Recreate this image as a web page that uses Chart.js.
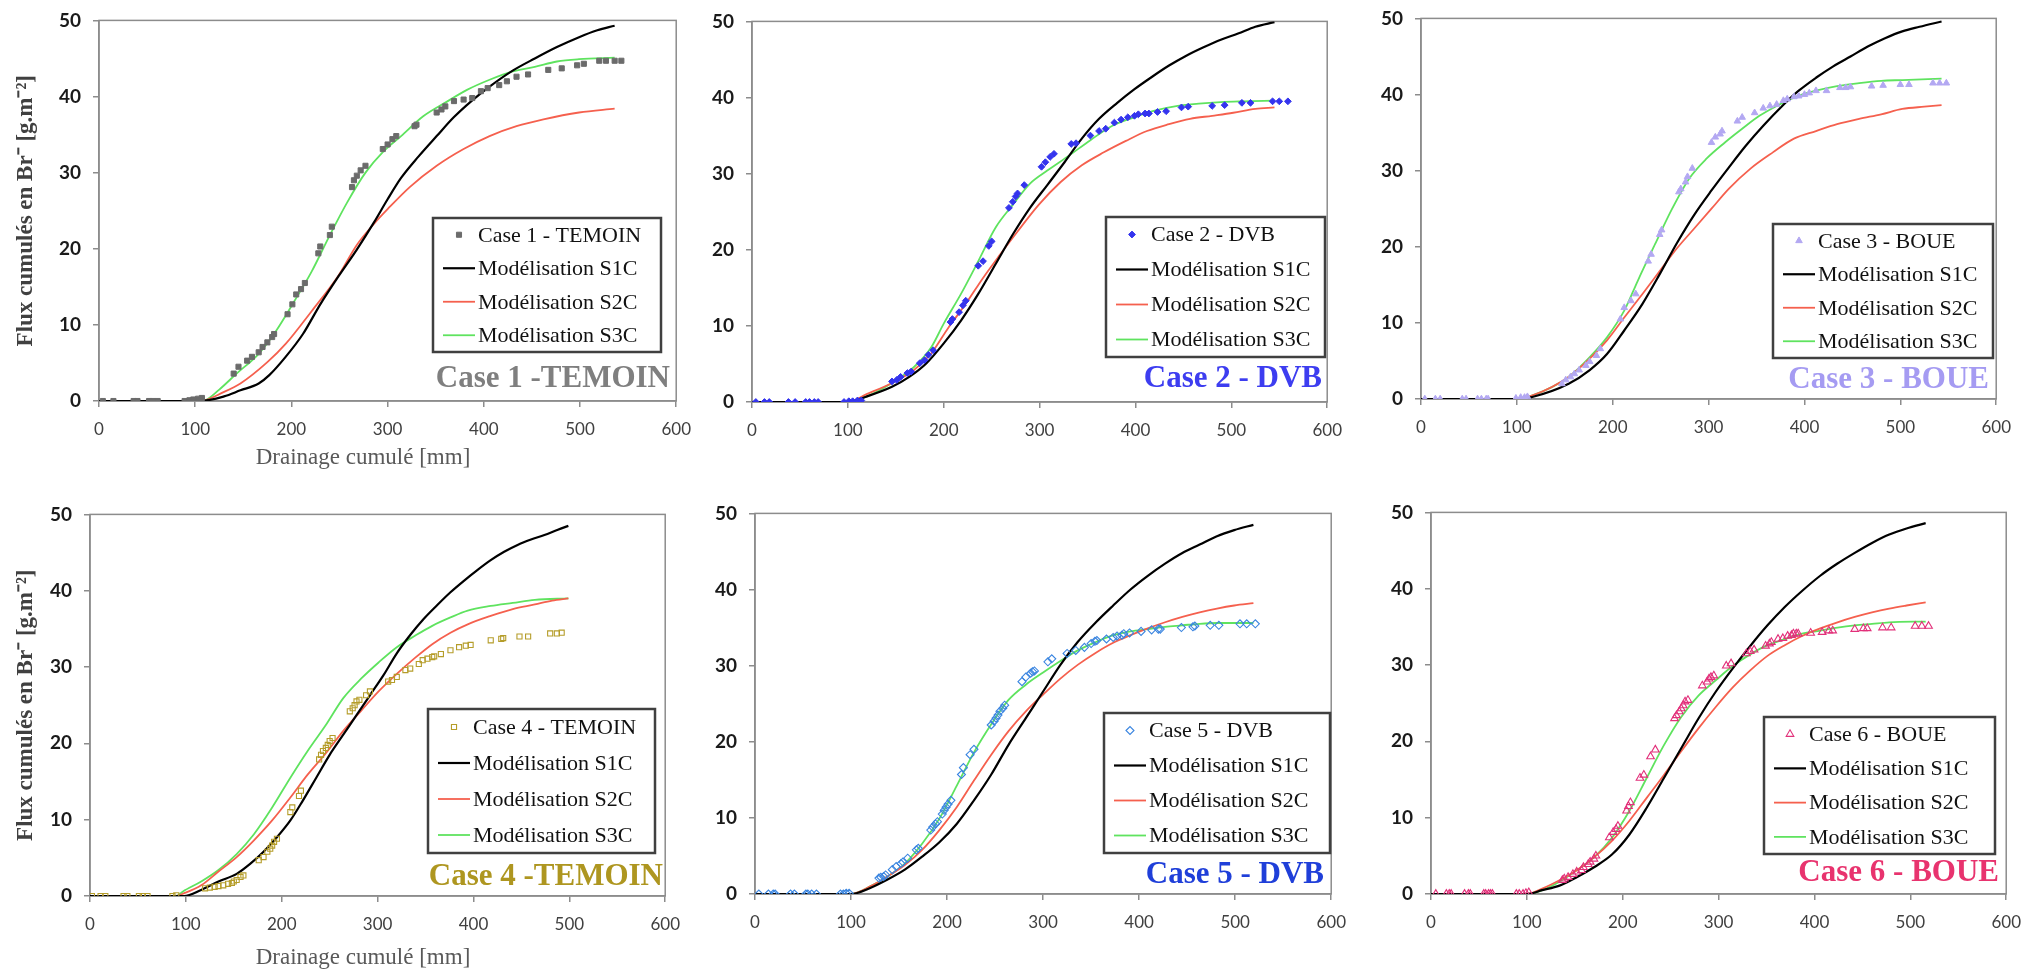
<!DOCTYPE html>
<html><head><meta charset="utf-8">
<script src="https://cdn.jsdelivr.net/npm/chart.js@4.4.0/dist/chart.umd.min.js"></script>
<style>
html,body{margin:0;padding:0;background:#fff;width:2042px;height:972px;overflow:hidden;position:relative}
canvas{position:absolute}
</style></head><body>
<script>
// ---------- tick labels ----------
const xTicks = [0, 100, 200, 300, 400, 500, 600];
const yTicks = [0, 10, 20, 30, 40, 50];
const xTitle = 'Drainage cumulé [mm]';
const yTitle = 'Flux cumulés en Br\u207B [g.m\u207B\u00B2]';
const modelLabels = ['Modélisation S1C', 'Modélisation S2C', 'Modélisation S3C'];
const caseLabels = ['Case 1 - TEMOIN', 'Case 2 - DVB', 'Case 3 - BOUE', 'Case 4 - TEMOIN', 'Case 5 - DVB', 'Case 6 - BOUE'];
const caseTitles = ['Case 1 -TEMOIN', 'Case 2 - DVB', 'Case 3 - BOUE', 'Case 4 -TEMOIN', 'Case 5 - DVB', 'Case 6 - BOUE'];

// ---------- measured points [drainage mm, flux g/m2] ----------
const case1 = [[4,0],[15,0],[36,0],[40,0],[52,0],[56,0],[61,0],[89,0],[94,0.1],[98,0.2],[103,0.3],[107,0.4],
 [140,3.6],[145,4.5],[154,5.3],[159,5.8],[166,6.4],[170,7.1],[175,7.7],[180,8.4],[182,8.8],[196,11.4],[201,12.7],[205,14],[210,14.7],[214,15.5],
 [228,19.4],[230,20.3],[240,21.8],[242,22.9],[263,28.1],[265,29],[268,29.6],[272,30.3],[277,30.9],[295,33.1],[300,33.7],[305,34.4],[309,34.8],
 [328,36.1],[330,36.3],[351,37.9],[356,38.3],[360,38.7],[369,39.4],[379,39.6],[388,39.8],[397,40.7],[404,41.1],[416,41.5],[424,42],[434,42.6],
 [446,42.9],[467,43.5],[481,43.7],[497,44.1],[504,44.3],[520,44.7],[527,44.7],[536,44.7],[543,44.7]];
const case2 = [[4,0],[13,0],[18,0],[38,0],[45,0],[56,0],[60,0],[65,0],[69,0],[96,0],[101,0.1],[105,0.1],[110,0.2],[114,0.2],
 [146,2.7],[151,2.9],[155,3.3],[162,3.8],[166,4],[175,5.1],[180,5.5],[184,6.2],[189,6.8],[207,10.5],[209,10.9],[216,11.8],[220,12.7],[223,13.3],
 [236,17.9],[241,18.5],[247,20.5],[250,21.1],[268,25.5],[272,26.3],[275,27],[277,27.4],[284,28.5],[302,30.9],[306,31.5],[311,32.2],[315,32.6],
 [333,33.9],[338,34],[353,35],[362,35.6],[369,35.9],[378,36.7],[385,37.1],[392,37.4],[399,37.6],[403,37.8],[410,37.9],[414,37.9],[423,38.1],
 [432,38.2],[448,38.7],[455,38.8],[480,38.9],[493,39],[511,39.3],[520,39.3],[543,39.5],[550,39.5],[559,39.5]];
const case3 = [[4,0],[15,0],[20,0],[43,0],[47,0],[59,0],[63,0],[68,0],[70,0],[99,0.1],[104,0.2],[108,0.2],[111,0.3],
 [147,2],[151,2.5],[156,2.9],[160,3.3],[165,3.8],[172,4.4],[176,4.9],[183,5.7],[187,6.6],[208,10.5],[212,12],[219,12.9],[224,13.8],
 [237,18.1],[240,19],[249,21.6],[251,22.2],[269,27.2],[271,27.6],[276,28.5],[278,29.2],[283,30.3],[303,33.7],[307,34.4],[312,34.8],[314,35.2],
 [330,36.5],[335,37],[348,37.6],[357,38.2],[364,38.5],[371,38.7],[378,39.2],[382,39.4],[389,39.7],[394,39.8],[400,40],[405,40.2],[412,40.5],
 [423,40.5],[437,40.9],[443,40.9],[448,41],[470,41.1],[482,41.2],[500,41.3],[509,41.3],[534,41.5],[541,41.5],[548,41.5]];
const case4 = [[2,0],[11,0],[16,0],[35,0],[39,0],[51,0],[55,0],[60,0],[86,0],[90,0.1],
 [120,1],[125,1.1],[130,1.2],[134,1.3],[139,1.4],[144,1.6],[148,1.7],[150,1.9],[153,2.1],[157,2.5],[160,2.7],[176,4.7],[181,5.1],[185,5.8],
 [188,6.2],[190,6.6],[192,7.1],[195,7.5],[209,11],[211,11.6],[218,13.1],[220,13.8],[239,17.9],[241,18.5],[243,19],[246,19.4],[248,19.8],[250,20.3],
 [253,20.7],[271,24.2],[274,24.6],[276,25],[278,25.5],[281,25.7],[288,26.3],[292,26.8],[311,28.1],[315,28.3],[320,28.7],[329,29.6],[334,29.8],
 [343,30.4],[347,30.9],[352,31.1],[357,31.3],[359,31.4],[366,31.7],[376,32.2],[385,32.6],[392,32.8],[397,32.9],[418,33.5],[429,33.7],[431,33.8],
 [448,34],[457,34],[480,34.4],[487,34.4],[492,34.5]];
const case5 = [[4,0],[14,0],[19,0],[21,0],[37,0],[41,0],[53,0],[55,0],[59,0],[64,0],[89,0],[92,0],[95,0.1],[98,0.1],
 [129,2.1],[131,2.2],[134,2.3],[136,2.5],[143,3.2],[147,3.6],[152,4],[154,4.2],[159,4.7],[168,5.8],[170,6],[183,8.4],[185,8.8],[188,9.2],
 [190,9.5],[195,10.5],[197,11],[199,11.4],[201,11.8],[204,12.3],[215,15.7],[217,16.6],[224,18.3],[228,19],[246,22.2],[249,22.7],[251,23.1],
 [253,23.5],[255,24],[258,24.4],[260,24.8],[278,27.9],[282,28.5],[287,29],[289,29.2],[291,29.3],[305,30.5],[309,30.9],[325,31.6],[334,32],
 [343,32.4],[350,32.9],[354,33.2],[356,33.3],[366,33.5],[373,33.7],[377,33.9],[382,34],[384,34.2],[390,34.3],[402,34.5],[413,34.7],[420,34.8],
 [422,34.8],[444,35],[456,35.1],[458,35.2],[474,35.3],[483,35.3],[505,35.5],[512,35.5],[521,35.5]];
const case6 = [[5,0],[16,0],[19,0],[21,0],[35,0],[39,0],[41,0],[55,0],[57,0],[60,0],[62,0],[64,0],[89,0],[92,0],[96,0],[99,0.1],[102,0.2],
 [137,1.8],[139,2],[143,2.2],[148,2.6],[152,2.9],[157,3.1],[159,3.5],[164,3.9],[166,4.2],[170,4.6],[172,5],[186,7.4],[190,8.1],[193,8.5],
 [195,8.9],[204,10.9],[206,11.5],[208,12],[218,15.2],[222,15.6],[229,18],[234,18.9],[254,23],[256,23.4],[259,23.9],[261,24.3],[263,24.7],
 [265,25.2],[268,25.4],[283,27.3],[288,27.8],[290,28.2],[292,28.4],[295,28.6],[308,29.9],[313,30.2],[329,31.5],[333,31.8],[337,32],[349,32.5],
 [353,32.8],[355,33],[362,33.4],[367,33.5],[372,33.8],[376,33.9],[378,34.1],[381,34.1],[383,34.1],[396,34.2],[408,34.3],[415,34.5],[419,34.5],
 [442,34.7],[451,34.8],[455,34.8],[471,34.9],[480,34.9],[505,35.1],[512,35.1],[519,35.1]];

// ---------- model curves ----------
const s1c_1 = [[0,0],[105,0],[130,0.6],[147,1.4],[166,2.3],[177,3.4],[194,5.8],[212,8.8],[230,12.7],[249,16.4],[268,19.9],[286,23.5],[300,26.5],[314,29.3],[332,32.1],[351,34.8],[369,37.3],[388,39.5],[406,41.3],[430,43.4],[453,45],[476,46.5],[499,47.8],[518,48.7],[536,49.3]];
const s2c_1 = [[0,0],[105,0],[130,1.2],[147,2.3],[175,5.1],[194,7.5],[221,11.8],[249,16.5],[268,20.5],[286,23.3],[300,25.2],[323,28.1],[351,30.9],[379,33.1],[406,34.8],[434,36.1],[462,37],[499,37.9],[536,38.4]];
const s3c_1 = [[0,0],[100,0],[110,0.1],[125,1.5],[143,3.6],[166,6.2],[184,9.2],[203,13.1],[221,17],[240,21.8],[258,26.1],[277,30],[295,32.7],[314,34.8],[337,37.4],[360,39.2],[383,40.9],[406,42.2],[430,43.3],[453,43.9],[476,44.6],[499,44.9],[536,45.1]];
const s1c_2 = [[0,0],[100,0],[119,0.7],[146,2],[164,3.3],[182,5.1],[200,7.7],[218,10.7],[236,14.2],[254,18.1],[272,22],[290,25.5],[308,28.5],[326,31.5],[344,34.6],[362,37.2],[381,39.3],[399,41.1],[417,42.7],[435,44.2],[453,45.5],[471,46.6],[489,47.6],[507,48.4],[525,49.3],[545,49.9]];
const s2c_2 = [[0,0],[100,0],[119,1],[146,2.5],[169,4.2],[187,6.4],[205,9.8],[223,12.9],[241,16.3],[259,19.4],[277,22.4],[299,25.9],[322,28.9],[344,31.1],[367,32.8],[390,34.3],[412,35.6],[435,36.5],[457,37.2],[480,37.6],[502,38],[525,38.5],[545,38.7]];
const s3c_2 = [[0,0],[100,0],[119,0.7],[146,2.5],[169,4.6],[187,7.2],[200,10.3],[218,14.2],[236,18.5],[254,22.9],[272,25.9],[290,28.7],[308,30.4],[331,32.4],[353,34.4],[376,36.3],[399,37.4],[421,38.3],[444,38.9],[466,39.2],[489,39.4],[511,39.5],[545,39.6]];
const s1c_3 = [[0,0],[100,0],[117,0.3],[154,2],[176,3.8],[194,5.9],[212,9],[231,12.5],[249,16.4],[267,20.5],[285,24.2],[303,27.4],[321,30.4],[339,33.3],[357,35.9],[376,38.4],[394,40.5],[412,42.2],[430,43.7],[448,45],[466,46.3],[484,47.4],[502,48.3],[520,48.9],[543,49.6]];
const s2c_3 = [[0,0],[100,0],[117,0.5],[154,2.9],[176,5.3],[194,7.7],[212,10.7],[231,13.8],[249,16.8],[267,19.8],[285,22.4],[303,25],[321,27.6],[344,30.3],[367,32.4],[389,34.2],[412,35.2],[434,36.1],[457,36.8],[480,37.4],[502,38.1],[525,38.4],[543,38.6]];
const s3c_3 = [[0,0],[100,0],[117,0.5],[154,2.9],[176,5.5],[194,8.1],[212,11.6],[226,15.5],[244,20.3],[262,25],[280,29],[298,31.6],[317,33.7],[335,35.5],[353,37.2],[371,38.5],[389,39.6],[412,40.5],[434,41.1],[457,41.5],[480,41.8],[502,41.9],[543,42.1]];
const s1c_4 = [[0,0],[98,0],[116,0.8],[134,1.9],[153,2.9],[167,4.2],[181,5.8],[195,7.7],[209,9.9],[222,12.5],[236,15.5],[250,18.5],[264,21.1],[278,23.7],[292,26.3],[306,28.9],[320,31.8],[334,34.2],[348,36.3],[362,38.1],[376,39.8],[390,41.3],[404,42.7],[418,44],[432,45.1],[446,46],[460,46.7],[474,47.3],[488,48],[499,48.5]];
const s2c_4 = [[0,0],[90,0],[97,0.3],[116,1.4],[134,3.2],[153,5.1],[171,7.3],[190,9.9],[209,12.9],[227,15.9],[246,18.7],[264,21.6],[283,24.3],[301,26.8],[320,29.1],[339,31.2],[357,33],[376,34.5],[394,35.6],[418,36.7],[441,37.6],[464,38.2],[482,38.7],[499,39]];
const s3c_4 = [[0,0],[90,0],[97,0.6],[116,1.9],[134,3.4],[153,5.5],[171,8.1],[190,11.6],[209,15.5],[227,19],[246,22.4],[264,25.9],[283,28.5],[301,30.6],[320,32.6],[339,34.1],[357,35.4],[376,36.5],[394,37.4],[418,38],[441,38.4],[464,38.8],[499,39]];
const s1c_5 = [[0,0],[100,0],[120,0.8],[138,1.9],[156,3.2],[174,4.9],[192,6.8],[210,9.2],[228,12.3],[246,15.7],[264,19.6],[282,23.1],[300,26.6],[318,30.1],[336,33.1],[355,35.7],[373,37.9],[391,40],[409,41.8],[427,43.4],[445,44.8],[463,45.9],[481,47],[499,47.8],[519,48.5]];
const s2c_5 = [[0,0],[100,0],[120,1],[138,2.3],[156,3.8],[174,5.8],[192,8.4],[210,11.4],[228,14.9],[246,18.3],[264,21.4],[282,24],[300,26.2],[318,28.3],[336,30.1],[355,31.7],[373,33],[391,34],[409,34.9],[427,35.7],[445,36.4],[463,37],[481,37.5],[499,37.9],[519,38.2]];
const s3c_5 = [[0,0],[100,0],[120,1],[138,2.3],[156,4],[174,6.6],[192,9.9],[210,14.2],[228,18.6],[246,22.3],[264,25.5],[282,27.5],[300,29.1],[318,30.6],[336,32],[355,33.1],[373,34],[391,34.5],[409,34.8],[427,35.1],[445,35.3],[463,35.5],[481,35.6],[519,35.6]];
const s1c_6 = [[0,0],[100,0],[116,0.5],[134,1.1],[152,2.2],[170,3.5],[189,5.2],[207,7.8],[225,11.3],[243,15.2],[261,19.1],[279,23],[297,26.5],[315,29.6],[333,32.5],[351,35.2],[369,37.6],[387,39.7],[406,41.7],[424,43.3],[442,44.7],[460,46],[478,47.1],[496,47.9],[516,48.6]];
const s2c_6 = [[0,0],[100,0],[116,0.7],[134,1.8],[152,3.1],[170,4.8],[189,7],[207,9.6],[225,12.6],[243,15.6],[261,18.7],[279,21.7],[297,24.5],[315,27.1],[333,29.3],[351,31.2],[369,32.6],[387,33.8],[406,34.8],[424,35.6],[442,36.3],[460,36.9],[478,37.4],[496,37.8],[516,38.2]];
const s3c_6 = [[0,0],[100,0],[116,0.5],[134,1.6],[152,3.1],[170,4.8],[189,7.4],[207,10.9],[225,15.2],[243,19.5],[261,23.2],[279,26],[297,28],[315,29.9],[333,31.4],[351,32.6],[369,33.4],[387,34.1],[406,34.5],[424,34.9],[442,35.2],[460,35.4],[478,35.6],[516,35.7]];

// ---------- styles ----------
const modelColors = ['#000000', '#f5604e', '#5fe35f'];
const modelWidths = [2.2, 1.8, 1.8];
const markerStyles = [
  {pointStyle:'rect', radius:3.6, bg:'#6b6b6b', border:'#6b6b6b', bw:1},
  {pointStyle:'rectRot', radius:3.4, bg:'#3434ee', border:'#3434ee', bw:1},
  {pointStyle:'triangle', radius:3.8, bg:'#b3a8f2', border:'#b3a8f2', bw:1},
  {pointStyle:'rect', radius:3.6, bg:'rgba(255,255,255,0)', border:'#b59d2a', bw:1.1},
  {pointStyle:'rectRot', radius:4, bg:'rgba(255,255,255,0)', border:'#3a85e0', bw:1.1},
  {pointStyle:'triangle', radius:4.4, bg:'rgba(255,255,255,0)', border:'#e2307a', bw:1.1}
];
const titleColors = ['#7f7f7f', '#3d3df0', '#a59bf2', '#ae9620', '#1f3fd9', '#e8336e'];

const panels = [
  {pts:case1, m:[s1c_1,s2c_1,s3c_1], area:{L:99,T:17,R:678,B:401}, yw:99, axisTitles:true, xt:{cx:363, cy:458},
   legend:{x:433,y:218,w:228,h:134}, title:{right:670,base:387}},
  {pts:case2, m:[s1c_2,s2c_2,s3c_2], area:{L:752,T:18,R:1329,B:402}, yw:70, axisTitles:false,
   legend:{x:1106,y:217,w:219,h:140}, title:{right:1322,base:387}},
  {pts:case3, m:[s1c_3,s2c_3,s3c_3], area:{L:1421,T:15,R:1998,B:399}, yw:70, axisTitles:false,
   legend:{x:1773,y:224,w:220,h:134}, title:{right:1989,base:388}},
  {pts:case4, m:[s1c_4,s2c_4,s3c_4], area:{L:90,T:511,R:667,B:896}, yw:90, axisTitles:true, xt:{cx:363, cy:958},
   legend:{x:428,y:709,w:227,h:144}, title:{right:663,base:885}},
  {pts:case5, m:[s1c_5,s2c_5,s3c_5], area:{L:755,T:510,R:1333,B:894}, yw:70, axisTitles:false,
   legend:{x:1104,y:713,w:226,h:140}, title:{right:1324,base:883}},
  {pts:case6, m:[s1c_6,s2c_6,s3c_6], area:{L:1431,T:509,R:2008,B:894}, yw:70, axisTitles:false,
   legend:{x:1764,y:717,w:231,h:137}, title:{right:1999,base:881}}
];

const PT = 20, PR = 25, XH = 78;
const toXY = arr => arr.map(p => ({x:p[0], y:p[1]}));

const framePlugin = {
  id: 'frame',
  beforeDatasetsDraw(chart) {
    const {ctx, chartArea:a} = chart;
    ctx.save();
    ctx.strokeStyle = '#8c8c8c'; ctx.lineWidth = 1.5;
    ctx.strokeRect(a.left, a.top, a.right - a.left, a.bottom - a.top);
    ctx.restore();
  }
};

const boxLegendPlugin = {
  id: 'boxLegend',
  afterDraw(chart, args, opts) {
    const ctx = chart.ctx;
    const b = opts.box;
    ctx.save();
    ctx.fillStyle = '#ffffff';
    ctx.fillRect(b.x, b.y, b.w, b.h);
    ctx.strokeStyle = '#404040'; ctx.lineWidth = 2.5;
    ctx.strokeRect(b.x, b.y, b.w, b.h);
    ctx.font = '22px "Liberation Serif", "Times New Roman", serif';
    ctx.textBaseline = 'middle'; ctx.textAlign = 'left';
    chart.data.datasets.forEach((ds, i) => {
      const y = b.y + b.h * (2 * i + 1) / 8;
      const x0 = b.x + 10, x1 = b.x + 42;
      if (ds.type === 'line') {
        ctx.strokeStyle = ds.borderColor; ctx.lineWidth = ds.borderWidth;
        ctx.beginPath(); ctx.moveTo(x0, y); ctx.lineTo(x1, y); ctx.stroke();
      } else {
        ctx.fillStyle = ds.backgroundColor; ctx.strokeStyle = ds.borderColor; ctx.lineWidth = ds.borderWidth;
        Chart.helpers.drawPoint(ctx, {pointStyle: ds.pointStyle, rotation: 0, radius: ds.pointRadius, borderWidth: ds.borderWidth}, (x0 + x1) / 2, y);
      }
      ctx.fillStyle = '#111111';
      ctx.fillText(ds.label, b.x + 45, y + 1);
    });
    const t = opts.title;
    ctx.font = 'bold 31px "Liberation Serif", "Times New Roman", serif';
    ctx.textAlign = 'right'; ctx.textBaseline = 'alphabetic';
    ctx.fillStyle = t.color;
    ctx.fillText(t.text, t.right, t.base);
    if (opts.xt) {
      ctx.font = '23px "Liberation Serif", "Times New Roman", serif';
      ctx.textAlign = 'center'; ctx.textBaseline = 'middle';
      ctx.fillStyle = '#595959';
      ctx.fillText(opts.xt.text, opts.xt.cx, opts.xt.cy);
    }
    ctx.restore();
  }
};

panels.forEach((p, k) => {
  const a = p.area;
  const left = a.L - p.yw, top = a.T - PT;
  const w = p.yw + (a.R - a.L) + PR, h = PT + (a.B - a.T) + XH;
  const cv = document.createElement('canvas');
  cv.width = w; cv.height = h;
  cv.style.left = left + 'px'; cv.style.top = top + 'px';
  cv.style.width = w + 'px'; cv.style.height = h + 'px';
  document.body.appendChild(cv);
  const ms = markerStyles[k];
  const datasets = [{
    type: 'scatter', label: caseLabels[k], data: toXY(p.pts),
    pointStyle: ms.pointStyle, pointRadius: ms.radius, backgroundColor: ms.bg, borderColor: ms.border,
    borderWidth: ms.bw, showLine: false, order: 0
  }];
  p.m.forEach((curve, j) => datasets.push({
    type: 'line', label: modelLabels[j], data: toXY(curve), borderColor: modelColors[j],
    backgroundColor: modelColors[j], borderWidth: modelWidths[j], pointRadius: 0, fill: false,
    cubicInterpolationMode: 'monotone', order: 1 + j
  }));
  new Chart(cv, {
    type: 'scatter',
    data: {datasets},
    plugins: [framePlugin, boxLegendPlugin],
    options: {
      responsive: false, devicePixelRatio: 1, animation: false, events: [],
      layout: {padding: {left: 0, top: PT, right: PR, bottom: 0}},
      plugins: {
        legend: {display: false}, tooltip: {enabled: false},
        boxLegend: {
          box: {x: p.legend.x - left, y: p.legend.y - top, w: p.legend.w, h: p.legend.h},
          title: {text: caseTitles[k], color: titleColors[k], right: p.title.right - left, base: p.title.base - top},
          xt: p.axisTitles ? {text: xTitle, cx: p.xt.cx - left, cy: p.xt.cy - top} : null
        }
      },
      scales: {
        x: {
          type: 'linear', min: 0, max: 600,
          afterBuildTicks: s => { s.ticks = xTicks.map(v => ({value: v})); },
          afterFit: s => { s.height = XH; },
          grid: {display: true, drawOnChartArea: false, drawTicks: true, tickLength: 6, color: '#8c8c8c', lineWidth: 1.5},
          border: {display: true, color: '#8c8c8c', width: 1.5},
          ticks: {color: '#404040', padding: 12, font: {family: 'Lato, "Open Sans", sans-serif', size: 17}, maxRotation: 0},
          title: {display: false}
        },
        y: {
          type: 'linear', min: 0, max: 50,
          afterBuildTicks: s => { s.ticks = yTicks.map(v => ({value: v})); },
          afterFit: s => { s.width = p.yw; },
          grid: {display: true, drawOnChartArea: false, drawTicks: true, tickLength: 6, color: '#8c8c8c', lineWidth: 1.5},
          border: {display: true, color: '#8c8c8c', width: 1.5},
          ticks: {color: '#1a1a1a', padding: 12, font: {family: 'Lato, "Open Sans", sans-serif', size: 19, weight: 'bold'}},
          title: {display: p.axisTitles, text: yTitle, color: '#404040',
                  font: {family: '"Liberation Serif", "Times New Roman", serif', size: 23, weight: 'bold'},
                  padding: {top: 12, bottom: 0}}
        }
      }
    }
  });
});
</script>
</body></html>
